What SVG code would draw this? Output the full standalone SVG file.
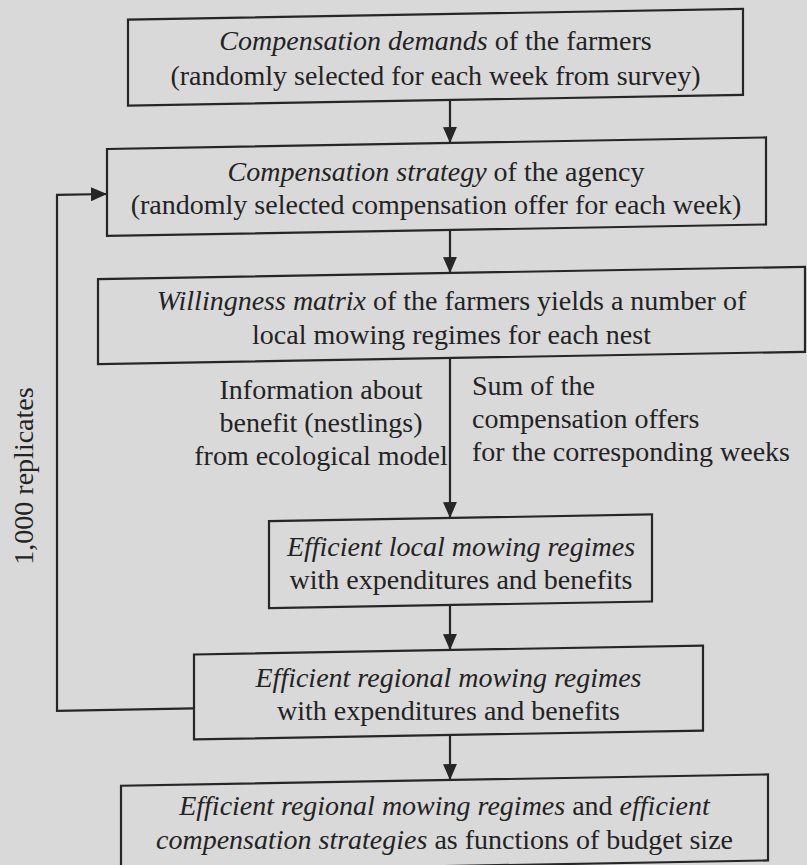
<svg xmlns="http://www.w3.org/2000/svg" width="807" height="865" viewBox="0 0 807 865">
<defs>
<style>
.box{fill:none;stroke:#262626;stroke-width:2.2}
.ln{fill:none;stroke:#262626;stroke-width:2.2}
.t{font-family:"Liberation Serif","Times New Roman",serif;font-size:28px;fill:#232323}
.c{text-anchor:middle}
.i{font-style:italic}
</style>
<marker id="ah" markerWidth="16" markerHeight="14" refX="16" refY="7" orient="auto" markerUnits="userSpaceOnUse">
<path d="M0,0 L16,7 L0,14 z" fill="#262626"/>
</marker>
</defs>
<rect x="0" y="0" width="807" height="865" fill="#d9d9d9"/>
<g id="shapes" transform="translate(0 7.86) skewY(-1)">
<g id="connectors">
<line class="ln" x1="450" y1="100" x2="450" y2="143" marker-end="url(#ah)"/>
<line class="ln" x1="450" y1="230" x2="450" y2="273" marker-end="url(#ah)"/>
<line class="ln" x1="450" y1="358" x2="450" y2="518" marker-end="url(#ah)"/>
<line class="ln" x1="450" y1="605" x2="450" y2="650" marker-end="url(#ah)"/>
<line class="ln" x1="450" y1="735" x2="450" y2="780" marker-end="url(#ah)"/>
<path class="ln" d="M194,704 H57 V188 H107" marker-end="url(#ah)"/>
</g>
<rect id="n1-frame" class="box" x="128" y="14" width="615" height="86"/>
<rect id="n2-frame" class="box" x="107" y="143" width="659" height="87"/>
<rect id="n3-frame" class="box" x="98" y="273" width="707" height="85"/>
<rect id="n4-frame" class="box" x="269" y="518" width="383" height="87"/>
<rect id="n5-frame" class="box" x="194" y="650" width="509" height="85"/>
<rect id="n6-frame" class="box" x="121" y="780" width="647" height="86"/>
</g>
<g id="n1">
<text class="t c" x="435.5" y="50"><tspan class="i">Compensation demands</tspan> of the farmers</text>
<text class="t c" x="435.5" y="85">(randomly selected for each week from survey)</text>
</g>
<g id="n2">
<text class="t c" x="436" y="181"><tspan class="i">Compensation strategy</tspan> of the agency</text>
<text class="t c" x="436" y="214">(randomly selected compensation offer for each week)</text>
</g>
<g id="n3">
<text class="t c" x="451.5" y="310"><tspan class="i">Willingness matrix</tspan> of the farmers yields a number of</text>
<text class="t c" x="451.5" y="344">local mowing regimes for each nest</text>
</g>
<g id="label-benefit">
<text class="t c" x="321" y="399">Information about</text>
<text class="t c" x="321" y="432">benefit (nestlings)</text>
<text class="t c" x="321" y="465">from ecological model</text>
</g>
<g id="label-sum">
<text class="t" x="472" y="395">Sum of the</text>
<text class="t" x="472" y="428">compensation offers</text>
<text class="t" x="472" y="461">for the corresponding weeks</text>
</g>
<g id="n4">
<text class="t c i" x="461" y="556">Efficient local mowing regimes</text>
<text class="t c" x="461" y="589">with expenditures and benefits</text>
</g>
<g id="n5">
<text class="t c i" x="448.5" y="687">Efficient regional mowing regimes</text>
<text class="t c" x="448.5" y="720">with expenditures and benefits</text>
</g>
<g id="n6">
<text class="t c" x="444.5" y="815"><tspan class="i">Efficient regional mowing regimes</tspan> and <tspan class="i">efficient</tspan></text>
<text class="t c" x="444.5" y="849"><tspan class="i">compensation strategies</tspan> as functions of budget size</text>
</g>
<g id="label-replicates">
<text class="t c" transform="translate(33 476) rotate(-90)">1,000 replicates</text>
</g>
</svg>
